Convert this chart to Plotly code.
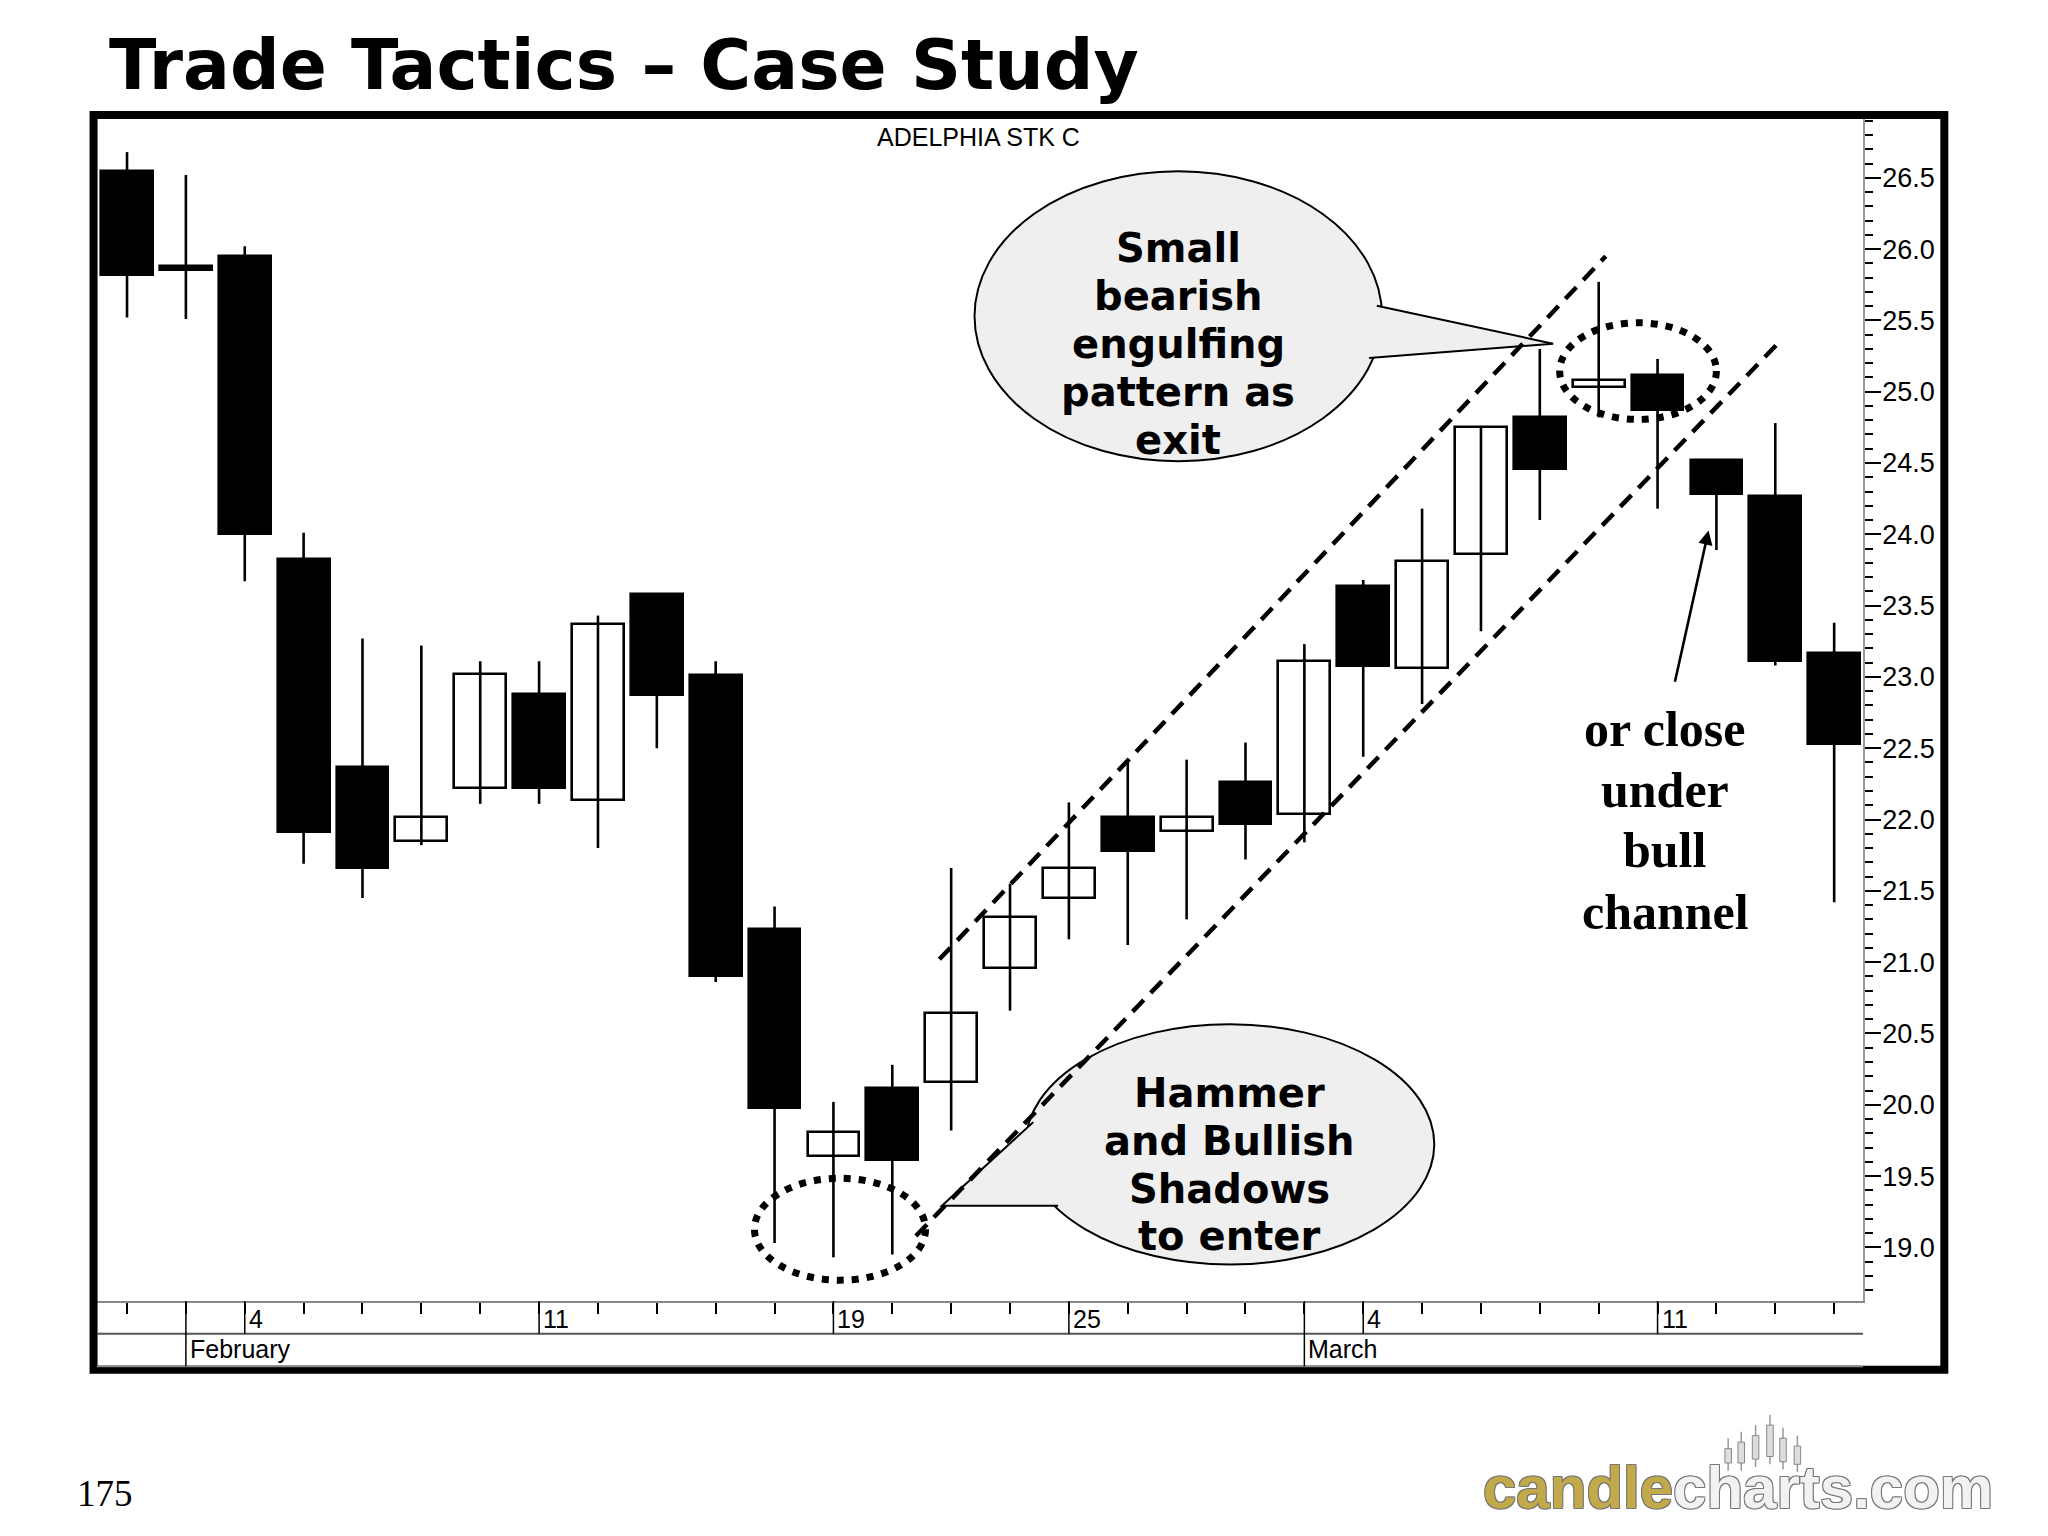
import plotly.graph_objects as go
import pandas as pd

# ---------------- data ----------------
dates = ["2002-01-31", "2002-02-01", "2002-02-04", "2002-02-05", "2002-02-06", "2002-02-07",
         "2002-02-08", "2002-02-11", "2002-02-12", "2002-02-13", "2002-02-14", "2002-02-15",
         "2002-02-19", "2002-02-20", "2002-02-21", "2002-02-22", "2002-02-25", "2002-02-26",
         "2002-02-27", "2002-02-28", "2002-03-01", "2002-03-04", "2002-03-05", "2002-03-06",
         "2002-03-07", "2002-03-08", "2002-03-11", "2002-03-12", "2002-03-13", "2002-03-14"]
opens = [26.55, 25.88, 25.95, 23.83, 22.37, 21.85, 22.22, 22.88, 22.14, 23.58,
         23.01, 21.23, 19.64, 20.12, 20.16, 20.96, 21.45, 22.02, 21.92, 22.26,
         22.04, 23.64, 23.06, 23.86, 24.82, 25.03, 25.12, 24.52, 24.27, 23.17]
highs = [26.68, 26.52, 26.02, 24.01, 23.27, 23.22, 23.11, 23.11, 23.43, 23.58,
         23.11, 21.39, 20.02, 20.28, 21.66, 21.55, 22.12, 22.41, 22.42, 22.54,
         23.23, 23.68, 24.18, 24.76, 25.30, 25.77, 25.23, 24.52, 24.78, 23.38]
lows = [25.52, 25.51, 23.67, 21.69, 21.45, 21.82, 22.11, 22.11, 21.80, 22.50,
        20.86, 19.03, 18.93, 18.95, 19.82, 20.66, 21.16, 21.12, 21.30, 21.72,
        21.84, 22.44, 22.81, 23.32, 24.10, 24.82, 24.18, 23.89, 23.08, 21.42]
closes = [25.82, 25.85, 24.00, 21.91, 21.66, 22.02, 23.02, 22.22, 23.37, 22.87,
          20.90, 19.98, 19.81, 19.61, 20.64, 21.32, 21.66, 21.78, 22.02, 21.97,
          23.11, 23.08, 23.81, 24.75, 24.46, 25.08, 24.87, 24.28, 23.11, 22.53]

month_names = ["January", "February", "March"]
y_ticks = [19.0, 19.5, 20.0, 20.5, 21.0, 21.5, 22.0, 22.5, 23.0, 23.5, 24.0, 24.5, 25.0, 25.5, 26.0, 26.5]

# bull channel (trading-day index, price)
upper_x = [13.8, 25.12]
upper_y = [21.02, 25.95]
lower_x = [13.4, 28.05]
lower_y = [19.08, 25.34]

# ---------------- layout helpers ----------------
W, H = 2048, 1536
S = 2048 / 1568
OFF = 5


def X(d):
    return (d - OFF) * S


ML = round(X(73))
MR = round(W - X(1425))
MT = round(X(90))
MB = round(H - X(995))
PW, PH = W - ML - MR, H - MT - MB


def PX(xd):
    return (X(xd) - ML) / PW


def PY(yd):
    return 1 - (X(yd) - MT) / PH


dt = pd.to_datetime(dates)
idx = list(range(len(dates)))

fig = go.Figure()

# wicks
wx, wy = [], []
for i, lo, hi in zip(idx, lows, highs):
    wx += [i, i, None]
    wy += [lo, hi, None]
fig.add_trace(go.Scatter(x=wx, y=wy, mode="lines", line=dict(color="black", width=2.6),
                         hoverinfo="skip", showlegend=False))

# bodies
base = [min(o, c) for o, c in zip(opens, closes)]
length = [abs(c - o) for o, c in zip(opens, closes)]
colors = ["white" if c > o else "black" for o, c in zip(opens, closes)]
fig.add_trace(go.Bar(x=idx, y=length, base=base, width=0.88,
                     marker=dict(color=colors, line=dict(color="black", width=2.6)),
                     showlegend=False, hoverinfo="skip"))

shapes = []
annotations = []

# outer frame
shapes.append(dict(type="rect", xref="paper", yref="paper",
                   x0=PX(70.5), x1=PX(1487.5), y0=PY(87), y1=PY(1047.5),
                   line=dict(color="black", width=8), fillcolor="rgba(0,0,0,0)", layer="above"))

# x axis band
row1 = PY(1020)
row2 = PY(1045)
shapes.append(dict(type="line", xref="paper", yref="paper", x0=0, x1=1, y0=row1, y1=row1,
                   line=dict(color="#555", width=2)))
shapes.append(dict(type="line", xref="paper", yref="paper", x0=0, x1=1, y0=row2, y1=row2,
                   line=dict(color="#888", width=2)))
row1_mid = PY(1009)
row2_mid = PY(1032)
for i in idx:
    if i == 0:
        continue
    new_month = dt[i].month != dt[i - 1].month
    new_week = dt[i].isocalendar()[1] != dt[i - 1].isocalendar()[1]
    if new_month:
        shapes.append(dict(type="line", xref="x", yref="paper", x0=i, x1=i, y0=0, y1=row2,
                           line=dict(color="black", width=1.5)))
        annotations.append(dict(x=i, y=row2_mid, xref="x", yref="paper", xanchor="left", yanchor="middle",
                                xshift=2, text=month_names[dt[i].month - 1], showarrow=False,
                                font=dict(family="Liberation Sans, Arial", size=25, color="black")))
    if new_week:
        shapes.append(dict(type="line", xref="x", yref="paper", x0=i, x1=i, y0=0, y1=row1,
                           line=dict(color="black", width=1.5)))
        annotations.append(dict(x=i, y=row1_mid, xref="x", yref="paper", xanchor="left", yanchor="middle",
                                xshift=2, text=str(dt[i].day), showarrow=False,
                                font=dict(family="Liberation Sans, Arial", size=25, color="black")))

# speech bubbles
BUB = "#efefef"
# upper bubble
shapes.append(dict(type="circle", xref="paper", yref="paper", x0=PX(745), x1=PX(1057), y0=PY(130), y1=PY(352),
                   line=dict(color="black", width=2), fillcolor=BUB, layer="above"))
shapes.append(dict(type="path", xref="paper", yref="paper",
                   path=f"M {PX(1053)},{PY(233)} L {PX(1188)},{PY(262)} L {PX(1047)},{PY(273)}",
                   line=dict(color="black", width=2), fillcolor=BUB, layer="above"))
# lower bubble
shapes.append(dict(type="circle", xref="paper", yref="paper", x0=PX(784), x1=PX(1097), y0=PY(783), y1=PY(967),
                   line=dict(color="black", width=2), fillcolor=BUB, layer="above"))
shapes.append(dict(type="path", xref="paper", yref="paper",
                   path=f"M {PX(790)},{PY(858)} L {PX(720)},{PY(922)} L {PX(809)},{PY(922)}",
                   line=dict(color="black", width=2), fillcolor=BUB, layer="above"))

# dotted ellipses
shapes.append(dict(type="circle", xref="paper", yref="paper", x0=PX(576.5), x1=PX(707.5), y0=PY(901), y1=PY(979),
                   line=dict(color="black", width=7, dash="7px,8px"), layer="above"))
shapes.append(dict(type="circle", xref="paper", yref="paper", x0=PX(1193), x1=PX(1313), y0=PY(246), y1=PY(320),
                   line=dict(color="black", width=7, dash="7px,8px"), layer="above"))

# channel lines
for xs, ys in ((upper_x, upper_y), (lower_x, lower_y)):
    shapes.append(dict(type="line", xref="x", yref="y", x0=xs[0], x1=xs[1], y0=ys[0], y1=ys[1],
                       line=dict(color="black", width=4.5, dash="16px,10px"), layer="above"))

# bubble texts
bfont = dict(family="DejaVu Sans, Verdana", size=40, color="black")
for t, yy in zip(["Small", "bearish", "engulfing", "pattern as", "exit"], [189, 225.6, 262.2, 298.8, 335.4]):
    annotations.append(dict(x=PX(901), y=PY(yy), xref="paper", yref="paper", text=f"<b>{t}</b>",
                            showarrow=False, font=bfont, xanchor="center", yanchor="middle"))
for t, yy in zip(["Hammer", "and Bullish", "Shadows", "to enter"], [836, 872.5, 909, 945.5]):
    annotations.append(dict(x=PX(940), y=PY(yy), xref="paper", yref="paper", text=f"<b>{t}</b>",
                            showarrow=False, font=bfont, xanchor="center", yanchor="middle"))

sfont = dict(family="Liberation Serif, Times New Roman", size=50, color="black")
for t, yy in zip(["or close", "under", "bull", "channel"], [557, 604, 650, 697]):
    annotations.append(dict(x=PX(1274), y=PY(yy), xref="paper", yref="paper", text=f"<b>{t}</b>",
                            showarrow=False, font=sfont, xanchor="center", yanchor="middle"))

# arrow
annotations.append(dict(x=PX(1307), y=PY(405), xref="paper", yref="paper", text="", showarrow=True,
                        ax=(1281 - 1307) * S, ay=(522 - 405) * S, arrowhead=2, arrowsize=1.1,
                        arrowwidth=2.6, arrowcolor="black"))

# titles and footer
annotations.append(dict(x=PX(81), y=PY(48), xref="paper", yref="paper", text="<b>Trade Tactics – Case Study</b>",
                        showarrow=False, xanchor="left", yanchor="middle",
                        font=dict(family="DejaVu Sans, Verdana", size=69.5, color="black")))
annotations.append(dict(x=PX(748), y=PY(104), xref="paper", yref="paper", text="ADELPHIA STK C",
                        showarrow=False, xanchor="center", yanchor="middle",
                        font=dict(family="Liberation Sans, Arial", size=25, color="black")))
annotations.append(dict(x=PX(56), y=PY(1142), xref="paper", yref="paper", text="175",
                        showarrow=False, xanchor="left", yanchor="middle",
                        font=dict(family="Liberation Serif, Times New Roman", size=37, color="black")))
annotations.append(dict(x=PX(1133), y=PY(1138), xref="paper", yref="paper",
                        text="<b><span style='color:#c2a94a'>candle</span>"
                             "<span style='color:#f2f2f2'>charts.com</span></b>",
                        showarrow=False, xanchor="left", yanchor="middle",
                        font=dict(family="Liberation Sans, Arial", size=60, color="#c2a94a",
                                  shadow="-1px -1px 0 #777, 1px -1px 0 #777, -1px 1px 0 #777, 1px 1px 0 #777")))

# small candlestick icon above logo
icon = [(1322, 1100, 1125), (1332, 1095, 1125), (1343, 1090, 1122), (1354, 1082, 1120),
        (1364, 1092, 1124), (1375, 1098, 1126)]
for xx, y0, y1 in icon:
    shapes.append(dict(type="line", xref="paper", yref="paper", x0=PX(xx), x1=PX(xx), y0=PY(y0), y1=PY(y1),
                       line=dict(color="#999", width=1.5)))
    shapes.append(dict(type="rect", xref="paper", yref="paper", x0=PX(xx - 2.5), x1=PX(xx + 2.5),
                       y0=PY(y0 + 8), y1=PY(y1 - 6), line=dict(color="#888", width=1), fillcolor="#ddd"))

fig.update_layout(
    width=W, height=H,
    margin=dict(l=ML, r=MR, t=MT, b=MB),
    paper_bgcolor="white", plot_bgcolor="white",
    shapes=shapes, annotations=annotations,
    bargap=0, showlegend=False,
    xaxis=dict(range=[-0.51, 29.49], showgrid=False, zeroline=False, showline=True, linecolor="#888",
               linewidth=2, ticks="outside", ticklen=11, tickwidth=1.5, tickcolor="black",
               tickvals=idx, showticklabels=False, fixedrange=True),
    yaxis=dict(range=[18.624, 26.912], side="right", showgrid=False, zeroline=False, showline=True,
               linecolor="#999", linewidth=1.5, ticks="outside", ticklen=16, tickwidth=1.5,
               tickcolor="black", tickvals=y_ticks, ticktext=[f"{v:.1f}" for v in y_ticks],
               tickfont=dict(family="Liberation Sans, Arial", size=27, color="black"),
               ticklabelstandoff=-4,
               minor=dict(dtick=0.1, tick0=0, ticks="outside", ticklen=8, tickwidth=1.5, tickcolor="black"),
               fixedrange=True),
)

fig.write_html("out.html")
